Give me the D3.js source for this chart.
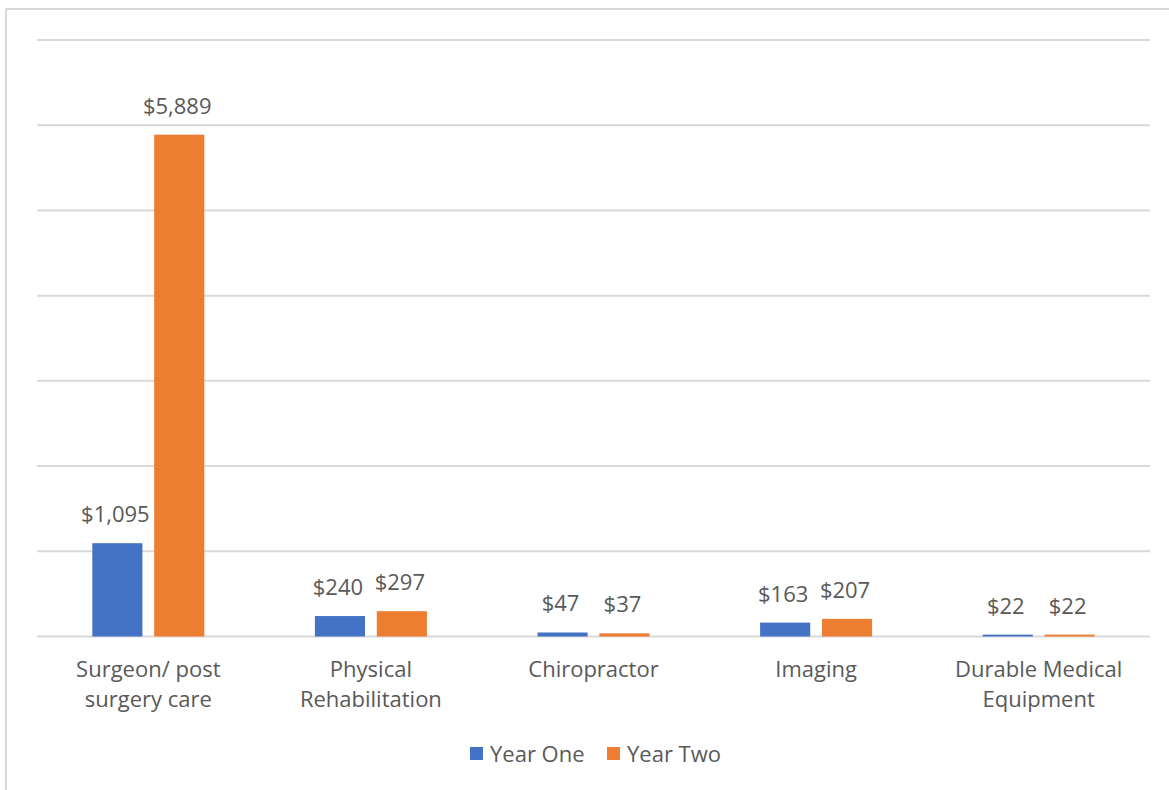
<!DOCTYPE html>
<html lang="en">
<head>
    <meta charset="UTF-8">
    <title>Year One vs Year Two costs</title>
    <script src="https://cdn.jsdelivr.net/npm/d3@7/dist/d3.min.js"></script>
    <style>
        body{
            margin: 0;
            background-color: #fff;
        }
    </style>
</head>
<body>
<script>
    // Chart data
    const categories = [
        ["Surgeon/ post", "surgery care"],
        ["Physical", "Rehabilitation"],
        ["Chiropractor"],
        ["Imaging"],
        ["Durable Medical", "Equipment"]
    ];
    const seriesNames = ["Year One", "Year Two"];
    const yearOne = [1095, 240, 47, 163, 22];
    const yearTwo = [5889, 297, 37, 207, 22];
    const yTicks = [0, 1000, 2000, 3000, 4000, 5000, 6000, 7000];

    const colors = ["#4472C4", "#ED7D31"];
    const textColor = "#595959";
    const font = "'Open Sans', sans-serif";

    const width = 1169;
    const height = 790;
    const margin = { top: 40, right: 19, bottom: 153.5, left: 37 };

    const svg = d3.select("body")
        .append("svg")
        .attr("width", width)
        .attr("height", height)
        .style("display", "block");

    // chart frame (only left and top edges show in the picture)
    svg.append("path")
        .attr("d", `M6,${height} V9 H${width}`)
        .attr("fill", "none")
        .attr("stroke", "#d9d9d9")
        .attr("stroke-width", 2);

    const keys = categories.map((c, i) => i);
    const bars = [];
    keys.forEach(i => {
        bars.push({ i, k: 0, v: yearOne[i] });
        bars.push({ i, k: 1, v: yearTwo[i] });
    });

    // scales (absolute page coordinates)
    const x0 = d3.scaleBand()
        .domain(keys)
        .range([margin.left, width - margin.right])
        .padding(0);

    const groupW = 112;
    const x1 = d3.scaleBand()
        .domain(seriesNames)
        .range([-groupW / 2, groupW / 2])
        .paddingInner(0.19)
        .paddingOuter(0);

    const y = d3.scaleLinear()
        .domain([0, 7000])
        .range([height - margin.bottom, margin.top]);

    const cx = i => x0(i) + x0.bandwidth() / 2;
    const barX = d => cx(d.i) + x1(seriesNames[d.k]);

    // gridlines
    svg.append("g")
        .selectAll("line")
        .data(yTicks)
        .enter()
        .append("line")
        .attr("x1", margin.left)
        .attr("x2", width - margin.right)
        .attr("y1", d => y(d))
        .attr("y2", d => y(d))
        .attr("stroke", "#d9d9d9")
        .attr("stroke-width", 2);

    // bars
    svg.append("g")
        .selectAll("rect")
        .data(bars)
        .enter()
        .append("rect")
        .attr("x", barX)
        .attr("y", d => y(d.v))
        .attr("width", x1.bandwidth())
        .attr("height", d => y(0) - y(d.v))
        .attr("fill", d => colors[d.k]);

    // value labels
    svg.append("g")
        .selectAll("text")
        .data(bars)
        .enter()
        .append("text")
        .attr("x", d => barX(d) + x1.bandwidth() / 2 - 2)
        .attr("y", d => y(d.v) - 21)
        .attr("text-anchor", "middle")
        .attr("font-family", font)
        .attr("font-size", 22)
        .attr("fill", textColor)
        .text(d => "$" + d3.format(",")(d.v));

    // category axis labels, one text per line
    const catLines = [];
    keys.forEach(i => categories[i].forEach((t, line) => catLines.push({ i, line, t })));

    svg.append("g")
        .selectAll("text")
        .data(catLines)
        .enter()
        .append("text")
        .attr("x", d => cx(d.i))
        .attr("y", d => y(0) + 40.5 + d.line * 30)
        .attr("text-anchor", "middle")
        .attr("font-family", font)
        .attr("font-size", 22)
        .attr("fill", textColor)
        .text(d => d.t);

    // legend
    const legendX = [470, 607];
    const legendY = 747;
    seriesNames.forEach((name, k) => {
        svg.append("rect")
            .attr("x", legendX[k])
            .attr("y", legendY)
            .attr("width", 13)
            .attr("height", 13)
            .attr("fill", colors[k]);
        svg.append("text")
            .attr("x", legendX[k] + 20)
            .attr("y", legendY + 14.5)
            .attr("font-family", font)
            .attr("font-size", 22)
            .attr("fill", textColor)
            .text(name);
    });
</script>
</body>
</html>
